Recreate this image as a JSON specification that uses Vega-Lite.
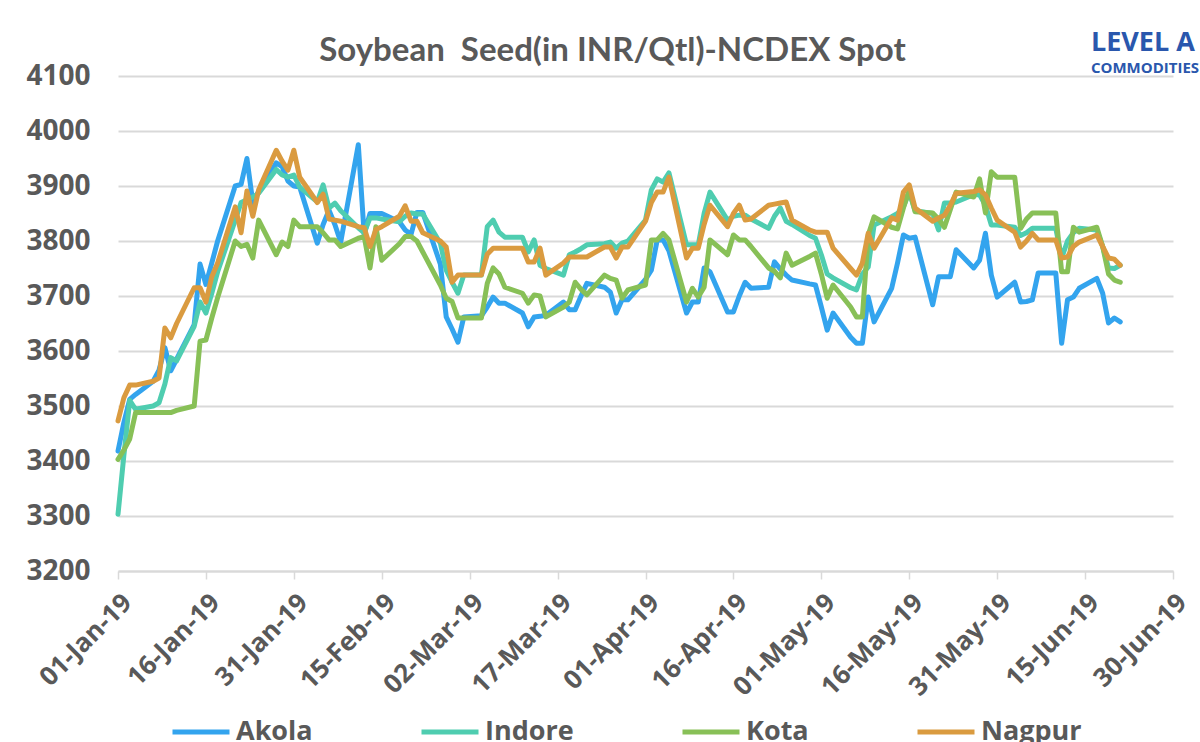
{
  "$schema": "https://vega.github.io/schema/vega-lite/v6.json",
  "autosize": {"type": "none"},
  "width": 1055,
  "height": 495,
  "padding": {"left": 118, "top": 76, "right": 27, "bottom": 171},
  "background": "white",
  "config": {
    "view": {"stroke": null},
    "font": "Open Sans"
  },
  "title": {
    "text": "Soybean \u00a0Seed(in INR/Qtl)-NCDEX Spot",
    "font": "Lato",
    "fontSize": 33,
    "fontWeight": "bold",
    "color": "#595959",
    "anchor": "middle",
    "dx": -33,
    "dy": 47,
    "offset": 8
  },
  "layer": [
    {
      "data": {
        "values": [
          {"d": "2019-01-01", "Akola": 3418, "Indore": 3303, "Kota": 3403, "Nagpur": 3473},
          {"d": "2019-01-02", "Akola": 3470, "Indore": 3410, "Kota": 3420, "Nagpur": 3515},
          {"d": "2019-01-03", "Akola": 3512, "Indore": 3510, "Kota": 3440, "Nagpur": 3538},
          {"d": "2019-01-04", "Akola": 3521, "Indore": 3494, "Kota": 3488, "Nagpur": 3538},
          {"d": "2019-01-07", "Akola": 3545, "Indore": 3500, "Kota": 3488, "Nagpur": 3545},
          {"d": "2019-01-08", "Akola": 3565, "Indore": 3506, "Kota": 3488, "Nagpur": 3551},
          {"d": "2019-01-09", "Akola": 3606, "Indore": 3540, "Kota": 3488, "Nagpur": 3642},
          {"d": "2019-01-10", "Akola": 3564, "Indore": 3588, "Kota": 3488, "Nagpur": 3624},
          {"d": "2019-01-11", "Akola": 3585, "Indore": 3582, "Kota": 3492, "Nagpur": 3650},
          {"d": "2019-01-14", "Akola": 3648, "Indore": 3645, "Kota": 3500, "Nagpur": 3715},
          {"d": "2019-01-15", "Akola": 3758, "Indore": 3689, "Kota": 3618, "Nagpur": 3715},
          {"d": "2019-01-16", "Akola": 3721, "Indore": 3669, "Kota": 3620, "Nagpur": 3689},
          {"d": "2019-01-17", "Akola": 3760, "Indore": 3705, "Kota": 3660, "Nagpur": 3735},
          {"d": "2019-01-18", "Akola": 3800, "Indore": 3744, "Kota": 3697, "Nagpur": 3760},
          {"d": "2019-01-21", "Akola": 3900, "Indore": 3838, "Kota": 3800, "Nagpur": 3862},
          {"d": "2019-01-22", "Akola": 3903, "Indore": 3870, "Kota": 3790, "Nagpur": 3815},
          {"d": "2019-01-23", "Akola": 3950, "Indore": 3875, "Kota": 3794, "Nagpur": 3891},
          {"d": "2019-01-24", "Akola": 3870, "Indore": 3880, "Kota": 3769, "Nagpur": 3845},
          {"d": "2019-01-25", "Akola": 3890, "Indore": 3887, "Kota": 3838, "Nagpur": 3893},
          {"d": "2019-01-28", "Akola": 3942, "Indore": 3930, "Kota": 3775, "Nagpur": 3965},
          {"d": "2019-01-29", "Akola": 3935, "Indore": 3920, "Kota": 3798, "Nagpur": 3945},
          {"d": "2019-01-30", "Akola": 3909, "Indore": 3916, "Kota": 3790, "Nagpur": 3929},
          {"d": "2019-01-31", "Akola": 3900, "Indore": 3920, "Kota": 3838, "Nagpur": 3965},
          {"d": "2019-02-01", "Akola": 3898, "Indore": 3898, "Kota": 3826, "Nagpur": 3916},
          {"d": "2019-02-04", "Akola": 3796, "Indore": 3871, "Kota": 3826, "Nagpur": 3870},
          {"d": "2019-02-05", "Akola": 3830, "Indore": 3902, "Kota": 3815, "Nagpur": 3885},
          {"d": "2019-02-06", "Akola": 3856, "Indore": 3860, "Kota": 3802, "Nagpur": 3840},
          {"d": "2019-02-07", "Akola": 3830, "Indore": 3869, "Kota": 3802, "Nagpur": 3838},
          {"d": "2019-02-08", "Akola": 3798, "Indore": 3855, "Kota": 3790, "Nagpur": 3836},
          {"d": "2019-02-11", "Akola": 3975, "Indore": 3824, "Kota": 3805, "Nagpur": 3826},
          {"d": "2019-02-12", "Akola": 3812, "Indore": 3815, "Kota": 3808, "Nagpur": 3824},
          {"d": "2019-02-13", "Akola": 3850, "Indore": 3842, "Kota": 3751, "Nagpur": 3790},
          {"d": "2019-02-14", "Akola": 3850, "Indore": 3842, "Kota": 3826, "Nagpur": 3821},
          {"d": "2019-02-15", "Akola": 3850, "Indore": 3840, "Kota": 3765, "Nagpur": 3826},
          {"d": "2019-02-18", "Akola": 3835, "Indore": 3835, "Kota": 3795, "Nagpur": 3845},
          {"d": "2019-02-19", "Akola": 3820, "Indore": 3845, "Kota": 3808, "Nagpur": 3864},
          {"d": "2019-02-20", "Akola": 3812, "Indore": 3851, "Kota": 3808, "Nagpur": 3836},
          {"d": "2019-02-21", "Akola": 3852, "Indore": 3849, "Kota": 3800, "Nagpur": 3836},
          {"d": "2019-02-22", "Akola": 3852, "Indore": 3849, "Kota": 3780, "Nagpur": 3815},
          {"d": "2019-02-25", "Akola": 3758, "Indore": 3796, "Kota": 3720, "Nagpur": 3800},
          {"d": "2019-02-26", "Akola": 3662, "Indore": 3747, "Kota": 3696, "Nagpur": 3789},
          {"d": "2019-02-27", "Akola": 3640, "Indore": 3725, "Kota": 3690, "Nagpur": 3725},
          {"d": "2019-02-28", "Akola": 3616, "Indore": 3705, "Kota": 3660, "Nagpur": 3738},
          {"d": "2019-03-01", "Akola": 3662, "Indore": 3738, "Kota": 3660, "Nagpur": 3738},
          {"d": "2019-03-04", "Akola": 3664, "Indore": 3738, "Kota": 3660, "Nagpur": 3738},
          {"d": "2019-03-05", "Akola": 3680, "Indore": 3826, "Kota": 3723, "Nagpur": 3776},
          {"d": "2019-03-06", "Akola": 3698, "Indore": 3838, "Kota": 3751, "Nagpur": 3787},
          {"d": "2019-03-07", "Akola": 3687, "Indore": 3816, "Kota": 3740, "Nagpur": 3787},
          {"d": "2019-03-08", "Akola": 3687, "Indore": 3807, "Kota": 3716, "Nagpur": 3787},
          {"d": "2019-03-11", "Akola": 3669, "Indore": 3807, "Kota": 3705, "Nagpur": 3787},
          {"d": "2019-03-12", "Akola": 3644, "Indore": 3780, "Kota": 3687, "Nagpur": 3762},
          {"d": "2019-03-13", "Akola": 3662, "Indore": 3802, "Kota": 3702, "Nagpur": 3762},
          {"d": "2019-03-14", "Akola": 3663, "Indore": 3756, "Kota": 3700, "Nagpur": 3787},
          {"d": "2019-03-15", "Akola": 3665, "Indore": 3750, "Kota": 3662, "Nagpur": 3738},
          {"d": "2019-03-18", "Akola": 3689, "Indore": 3738, "Kota": 3680, "Nagpur": 3760},
          {"d": "2019-03-19", "Akola": 3675, "Indore": 3775, "Kota": 3689, "Nagpur": 3771},
          {"d": "2019-03-20", "Akola": 3675, "Indore": 3780, "Kota": 3725, "Nagpur": 3771},
          {"d": "2019-03-21", "Akola": 3700, "Indore": 3786, "Kota": 3712, "Nagpur": 3771},
          {"d": "2019-03-22", "Akola": 3723, "Indore": 3793, "Kota": 3702, "Nagpur": 3771},
          {"d": "2019-03-25", "Akola": 3716, "Indore": 3795, "Kota": 3738, "Nagpur": 3789},
          {"d": "2019-03-26", "Akola": 3707, "Indore": 3798, "Kota": 3732, "Nagpur": 3789},
          {"d": "2019-03-27", "Akola": 3669, "Indore": 3787, "Kota": 3729, "Nagpur": 3769},
          {"d": "2019-03-28", "Akola": 3693, "Indore": 3796, "Kota": 3696, "Nagpur": 3789},
          {"d": "2019-03-29", "Akola": 3693, "Indore": 3800, "Kota": 3711, "Nagpur": 3789},
          {"d": "2019-04-01", "Akola": 3730, "Indore": 3838, "Kota": 3720, "Nagpur": 3836},
          {"d": "2019-04-02", "Akola": 3747, "Indore": 3893, "Kota": 3802, "Nagpur": 3870},
          {"d": "2019-04-03", "Akola": 3802, "Indore": 3913, "Kota": 3802, "Nagpur": 3889},
          {"d": "2019-04-04", "Akola": 3802, "Indore": 3907, "Kota": 3814, "Nagpur": 3889},
          {"d": "2019-04-05", "Akola": 3782, "Indore": 3924, "Kota": 3802, "Nagpur": 3916},
          {"d": "2019-04-08", "Akola": 3669, "Indore": 3793, "Kota": 3689, "Nagpur": 3769},
          {"d": "2019-04-09", "Akola": 3689, "Indore": 3793, "Kota": 3714, "Nagpur": 3787},
          {"d": "2019-04-10", "Akola": 3689, "Indore": 3793, "Kota": 3698, "Nagpur": 3787},
          {"d": "2019-04-11", "Akola": 3751, "Indore": 3850, "Kota": 3716, "Nagpur": 3830},
          {"d": "2019-04-12", "Akola": 3744, "Indore": 3889, "Kota": 3802, "Nagpur": 3865},
          {"d": "2019-04-15", "Akola": 3671, "Indore": 3838, "Kota": 3775, "Nagpur": 3826},
          {"d": "2019-04-16", "Akola": 3671, "Indore": 3845, "Kota": 3811, "Nagpur": 3850},
          {"d": "2019-04-17", "Akola": 3700, "Indore": 3847, "Kota": 3802, "Nagpur": 3865},
          {"d": "2019-04-18", "Akola": 3725, "Indore": 3847, "Kota": 3802, "Nagpur": 3838},
          {"d": "2019-04-19", "Akola": 3714, "Indore": 3840, "Kota": 3790, "Nagpur": 3840},
          {"d": "2019-04-22", "Akola": 3716, "Indore": 3823, "Kota": 3751, "Nagpur": 3865},
          {"d": "2019-04-23", "Akola": 3762, "Indore": 3845, "Kota": 3745, "Nagpur": 3867},
          {"d": "2019-04-24", "Akola": 3749, "Indore": 3860, "Kota": 3733, "Nagpur": 3869},
          {"d": "2019-04-25", "Akola": 3738, "Indore": 3836, "Kota": 3778, "Nagpur": 3871},
          {"d": "2019-04-26", "Akola": 3729, "Indore": 3830, "Kota": 3756, "Nagpur": 3838},
          {"d": "2019-04-29", "Akola": 3722, "Indore": 3810, "Kota": 3772, "Nagpur": 3820},
          {"d": "2019-04-30", "Akola": 3720, "Indore": 3805, "Kota": 3778, "Nagpur": 3816},
          {"d": "2019-05-01", "Akola": 3680, "Indore": 3775, "Kota": 3740, "Nagpur": 3816},
          {"d": "2019-05-02", "Akola": 3638, "Indore": 3740, "Kota": 3696, "Nagpur": 3816},
          {"d": "2019-05-03", "Akola": 3669, "Indore": 3733, "Kota": 3720, "Nagpur": 3787},
          {"d": "2019-05-06", "Akola": 3625, "Indore": 3715, "Kota": 3680, "Nagpur": 3750},
          {"d": "2019-05-07", "Akola": 3614, "Indore": 3711, "Kota": 3662, "Nagpur": 3738},
          {"d": "2019-05-08", "Akola": 3614, "Indore": 3740, "Kota": 3662, "Nagpur": 3760},
          {"d": "2019-05-09", "Akola": 3698, "Indore": 3753, "Kota": 3811, "Nagpur": 3814},
          {"d": "2019-05-10", "Akola": 3653, "Indore": 3829, "Kota": 3844, "Nagpur": 3787},
          {"d": "2019-05-13", "Akola": 3714, "Indore": 3844, "Kota": 3825, "Nagpur": 3842},
          {"d": "2019-05-14", "Akola": 3760, "Indore": 3850, "Kota": 3822, "Nagpur": 3838},
          {"d": "2019-05-15", "Akola": 3811, "Indore": 3862, "Kota": 3860, "Nagpur": 3889},
          {"d": "2019-05-16", "Akola": 3805, "Indore": 3889, "Kota": 3893, "Nagpur": 3902},
          {"d": "2019-05-17", "Akola": 3807, "Indore": 3855, "Kota": 3853, "Nagpur": 3860},
          {"d": "2019-05-20", "Akola": 3684, "Indore": 3850, "Kota": 3851, "Nagpur": 3836},
          {"d": "2019-05-21", "Akola": 3735, "Indore": 3820, "Kota": 3840, "Nagpur": 3842},
          {"d": "2019-05-22", "Akola": 3735, "Indore": 3869, "Kota": 3825, "Nagpur": 3847},
          {"d": "2019-05-23", "Akola": 3735, "Indore": 3869, "Kota": 3857, "Nagpur": 3865},
          {"d": "2019-05-24", "Akola": 3784, "Indore": 3871, "Kota": 3889, "Nagpur": 3887},
          {"d": "2019-05-27", "Akola": 3751, "Indore": 3884, "Kota": 3880, "Nagpur": 3890},
          {"d": "2019-05-28", "Akola": 3765, "Indore": 3884, "Kota": 3913, "Nagpur": 3893},
          {"d": "2019-05-29", "Akola": 3814, "Indore": 3865, "Kota": 3851, "Nagpur": 3884},
          {"d": "2019-05-30", "Akola": 3738, "Indore": 3829, "Kota": 3926, "Nagpur": 3860},
          {"d": "2019-05-31", "Akola": 3698, "Indore": 3829, "Kota": 3916, "Nagpur": 3838},
          {"d": "2019-06-03", "Akola": 3725, "Indore": 3825, "Kota": 3916, "Nagpur": 3816},
          {"d": "2019-06-04", "Akola": 3689, "Indore": 3810, "Kota": 3823, "Nagpur": 3789},
          {"d": "2019-06-05", "Akola": 3690, "Indore": 3815, "Kota": 3840, "Nagpur": 3800},
          {"d": "2019-06-06", "Akola": 3693, "Indore": 3823, "Kota": 3851, "Nagpur": 3814},
          {"d": "2019-06-07", "Akola": 3742, "Indore": 3823, "Kota": 3851, "Nagpur": 3802},
          {"d": "2019-06-10", "Akola": 3742, "Indore": 3823, "Kota": 3851, "Nagpur": 3802},
          {"d": "2019-06-11", "Akola": 3614, "Indore": 3769, "Kota": 3744, "Nagpur": 3769},
          {"d": "2019-06-12", "Akola": 3693, "Indore": 3800, "Kota": 3744, "Nagpur": 3771},
          {"d": "2019-06-13", "Akola": 3698, "Indore": 3815, "Kota": 3825, "Nagpur": 3790},
          {"d": "2019-06-14", "Akola": 3714, "Indore": 3823, "Kota": 3816, "Nagpur": 3798},
          {"d": "2019-06-17", "Akola": 3732, "Indore": 3820, "Kota": 3825, "Nagpur": 3811},
          {"d": "2019-06-18", "Akola": 3705, "Indore": 3790, "Kota": 3790, "Nagpur": 3790},
          {"d": "2019-06-19", "Akola": 3651, "Indore": 3751, "Kota": 3740, "Nagpur": 3769},
          {"d": "2019-06-20", "Akola": 3660, "Indore": 3750, "Kota": 3729, "Nagpur": 3767},
          {"d": "2019-06-21", "Akola": 3653, "Indore": 3756, "Kota": 3725, "Nagpur": 3756}
        ]
      },
      "transform": [{"fold": ["Akola", "Indore", "Kota", "Nagpur"], "as": ["series", "price"]}],
      "mark": {"type": "line", "strokeWidth": 5, "strokeCap": "round", "strokeJoin": "round"},
      "encoding": {
        "x": {
          "field": "d",
          "type": "temporal",
          "scale": {"type": "utc", "domain": [{"year": 2019, "month": 1, "date": 1, "utc": true}, {"year": 2019, "month": 6, "date": 30, "utc": true}]},
          "axis": {
            "title": null,
            "grid": false,
            "format": "%d-%b-%y",
            "values": [
              {"year": 2019, "month": 1, "date": 1, "utc": true},
              {"year": 2019, "month": 1, "date": 16, "utc": true},
              {"year": 2019, "month": 1, "date": 31, "utc": true},
              {"year": 2019, "month": 2, "date": 15, "utc": true},
              {"year": 2019, "month": 3, "date": 2, "utc": true},
              {"year": 2019, "month": 3, "date": 17, "utc": true},
              {"year": 2019, "month": 4, "date": 1, "utc": true},
              {"year": 2019, "month": 4, "date": 16, "utc": true},
              {"year": 2019, "month": 5, "date": 1, "utc": true},
              {"year": 2019, "month": 5, "date": 16, "utc": true},
              {"year": 2019, "month": 5, "date": 31, "utc": true},
              {"year": 2019, "month": 6, "date": 15, "utc": true},
              {"year": 2019, "month": 6, "date": 30, "utc": true}
            ],
            "labelAngle": -45,
            "labelFont": "Open Sans",
            "labelFontSize": 26,
            "labelFontWeight": "bold",
            "labelColor": "#595959",
            "labelPadding": 10,
            "labelOverlap": false,
            "labelFlush": false,
            "domainColor": "#d9d9d9",
            "domainWidth": 2,
            "tickColor": "#d9d9d9",
            "tickWidth": 1.5,
            "tickSize": 8
          }
        },
        "y": {
          "field": "price",
          "type": "quantitative",
          "scale": {"domain": [3200, 4100], "nice": false, "zero": false},
          "axis": {
            "title": null,
            "values": [3200, 3300, 3400, 3500, 3600, 3700, 3800, 3900, 4000, 4100],
            "format": "d",
            "domain": false,
            "ticks": false,
            "tickSize": 0,
            "gridColor": "#d9d9d9",
            "gridWidth": 2,
            "labelFont": "Open Sans",
            "labelFontSize": 28,
            "labelFontWeight": "bold",
            "labelColor": "#595959",
            "labelPadding": 28
          }
        },
        "color": {
          "field": "series",
          "type": "nominal",
          "scale": {"domain": ["Akola", "Indore", "Kota", "Nagpur"], "range": ["#33a4ee", "#4fcdb0", "#88c057", "#da9b40"]},
          "legend": {
            "title": null,
            "orient": "none",
            "direction": "horizontal",
            "legendX": 52,
            "legendY": 625,
            "padding": 0,
            "symbolType": "stroke",
            "symbolSize": 3249,
            "symbolStrokeWidth": 5,
            "labelFont": "Open Sans",
            "labelFontSize": 27,
            "labelFontWeight": "bold",
            "labelColor": "#595959",
            "labelOffset": 4,
            "columnPadding": 98,
            "labelLimit": 300
          }
        }
      }
    },
    {
      "data": {"values": [{"label": "LEVEL A"}]},
      "mark": {"type": "text", "align": "left", "baseline": "alphabetic", "font": "Open Sans", "fontSize": 27, "fontWeight": "bold", "color": "#2a57ad"},
      "encoding": {
        "x": {"datum": {"year": 2019, "month": 6, "date": 16, "utc": true}, "type": "temporal"},
        "y": {"datum": 4145, "type": "quantitative"},
        "text": {"field": "label"}
      }
    },
    {
      "data": {"values": [{"label": "COMMODITIES"}]},
      "mark": {"type": "text", "align": "left", "baseline": "alphabetic", "font": "Open Sans", "fontSize": 15, "fontWeight": "bold", "color": "#2a57ad"},
      "encoding": {
        "x": {"datum": {"year": 2019, "month": 6, "date": 16, "utc": true}, "type": "temporal"},
        "y": {"datum": 4106, "type": "quantitative"},
        "text": {"field": "label"}
      }
    }
  ]
}
